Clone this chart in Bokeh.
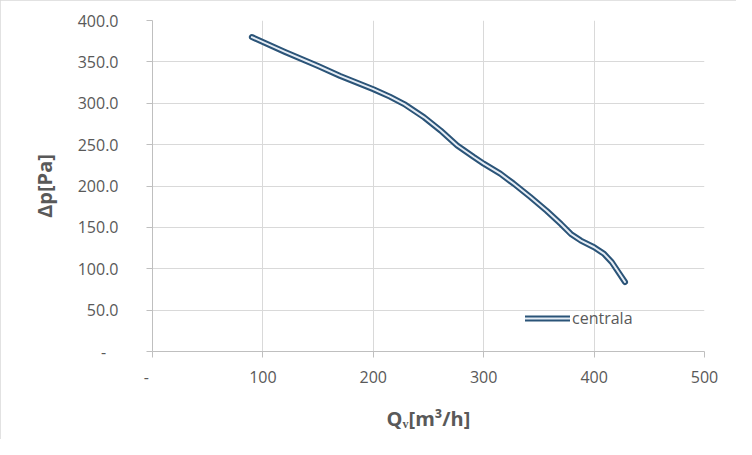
from bokeh.plotting import figure
from bokeh.models import FixedTicker, Range1d, Legend, LegendItem
from bokeh.embed import file_html
from bokeh.resources import INLINE

# Data
q_values = [90, 120, 150, 170, 200, 215, 228, 246, 261, 276, 291, 300, 315, 327, 342,
            357, 370, 379, 388, 400, 409, 416, 422, 428]
dp_values = [380, 362, 345, 333, 317, 308, 299, 283, 267, 249, 235, 227, 215, 203, 187,
             170, 154, 142, 134, 126, 118, 108, 96, 84]
series_name = "centrala"

x_ticks = [0, 100, 200, 300, 400, 500]
x_tick_labels = ["-\u00a0\u00a0\u00a0", "100", "200", "300", "400", "500"]
y_ticks = [0, 50, 100, 150, 200, 250, 300, 350, 400]
y_tick_labels = ["-\u00a0\u00a0\u00a0", "50.0", "100.0", "150.0", "200.0", "250.0", "300.0", "350.0", "400.0"]

FONT = "Open Sans"
GRAY = "#595959"

p = figure(width=736, height=439, output_backend="svg", toolbar_location=None,
           x_range=Range1d(0, 500), y_range=Range1d(0, 400),
           min_border_left=152, min_border_right=32, min_border_top=20, min_border_bottom=88)
p.outline_line_color = None
p.background_fill_color = "white"
p.border_fill_color = "white"
p.styles = {"outline": "2px solid #d9d9d9", "outline-offset": "-2px"}

for ax, ticks, labels in ((p.xaxis[0], x_ticks, x_tick_labels), (p.yaxis[0], y_ticks, y_tick_labels)):
    ax.ticker = FixedTicker(ticks=ticks)
    ax.major_label_overrides = {t: l for t, l in zip(ticks, labels)}
    ax.minor_tick_line_color = None
    ax.major_tick_in = 0
    ax.major_tick_out = 6
    ax.axis_line_color = "#bfbfbf"
    ax.major_tick_line_color = "#bfbfbf"
    ax.major_label_text_font = FONT
    ax.major_label_text_font_size = "16px"
    ax.major_label_text_color = GRAY
    ax.axis_label_text_font = FONT
    ax.axis_label_text_font_size = "20px"
    ax.axis_label_text_font_style = "bold"
    ax.axis_label_text_color = GRAY

p.xaxis[0].axis_label = "Q\u1d65[m\u00b3/h]"
p.yaxis[0].axis_label = "\u0394p[Pa]"
p.xaxis[0].major_label_standoff = 8
p.xaxis[0].axis_label_standoff = 14
p.yaxis[0].major_label_standoff = 28
p.yaxis[0].axis_label_standoff = 17

for g in (p.xgrid[0], p.ygrid[0]):
    g.grid_line_color = "#d9d9d9"
    g.grid_line_width = 1
p.xgrid[0].ticker = FixedTicker(ticks=x_ticks)
p.ygrid[0].ticker = FixedTicker(ticks=y_ticks)

r_outer = p.line(q_values, dp_values, line_color="#2b5478", line_width=6,
                 line_join="round", line_cap="round")
r_inner = p.line(q_values, dp_values, line_color="#e6edf5", line_width=2,
                 line_join="round", line_cap="round")

legend = Legend(items=[LegendItem(label=series_name, renderers=[r_outer, r_inner])],
                location=(373, 22), orientation="horizontal")
legend.border_line_color = None
legend.background_fill_alpha = 0
legend.padding = 0
legend.margin = 0
legend.glyph_width = 45
legend.glyph_height = 20
legend.label_standoff = 2
legend.label_text_font = FONT
legend.label_text_font_size = "16px"
legend.label_text_color = GRAY
p.add_layout(legend, "center")

open("out.html", "w").write(file_html(p, INLINE))
